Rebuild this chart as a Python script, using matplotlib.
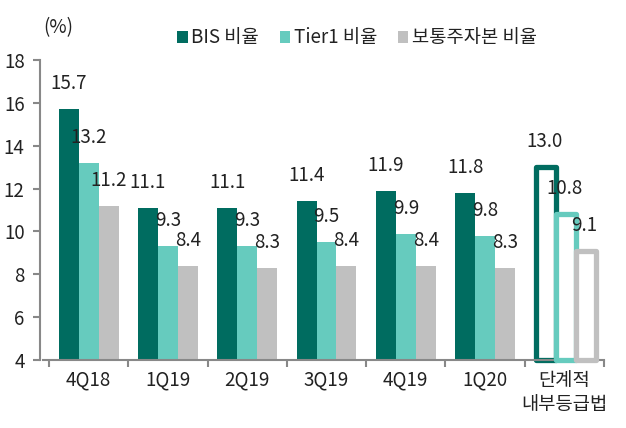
import matplotlib
matplotlib.use("Agg")
import matplotlib.pyplot as plt
from matplotlib.patches import Patch
import numpy as np

plt.rcParams['font.family'] = ['Noto Sans CJK KR', 'DejaVu Sans']
plt.rcParams['font.weight'] = 'light'

categories = ['4Q18', '1Q19', '2Q19', '3Q19', '4Q19', '1Q20', '단계적\n내부등급법']
bis = [15.7, 11.1, 11.1, 11.4, 11.9, 11.8, 13.0]
tier1 = [13.2, 9.3, 9.3, 9.5, 9.9, 9.8, 10.8]
common = [11.2, 8.4, 8.3, 8.4, 8.4, 8.3, 9.1]
series_names = ['BIS 비율', 'Tier1 비율', '보통주자본 비율']
colors = ['#006C60', '#66CBBE', '#C0C0C0']
yticks = [4, 6, 8, 10, 12, 14, 16, 18]

W, H = 626, 428
fig = plt.figure(figsize=(W/100, H/100), dpi=100)
ax = fig.add_axes([40/W, 1-360/H, 564/W, 300/H])

ymin = 4
txtc = '#222222'
fs = 13.5
n = len(categories)
x = np.arange(n)
bw = 20/79.3
offsets = [-bw, 0, bw]
series = [bis, tier1, common]
for s, (vals, col, off) in enumerate(zip(series, colors, offsets)):
    for i, v in enumerate(vals):
        xi = x[i] + off
        if i < n - 1:
            ax.bar(xi, v - ymin, bottom=ymin, width=bw, color=col, edgecolor='none', zorder=2)
        else:
            ax.bar(xi + 0.02, v - ymin, bottom=ymin, width=bw*0.98, facecolor='white',
                   edgecolor=col, linewidth=3.8, joinstyle='round', zorder=2 + s, clip_on=False)
        ax.annotate(f'{v:.1f}', xy=(xi, v), xytext=(0, 15), textcoords='offset pixels',
                    ha='center', va='bottom', fontsize=fs, color=txtc, zorder=10)

ax.set_xlim(-0.5 - 9/79.3, n - 0.5)
ax.set_ylim(4, 18)
ax.set_yticks(yticks)
ax.set_yticklabels([str(t) for t in yticks], fontsize=fs, color=txtc)
ax.set_xticks(x)
ax.set_xticklabels(categories, fontsize=fs, color=txtc, linespacing=1.2)
ax.tick_params(axis='x', length=0, pad=7)
ax.set_xticks(np.arange(n + 1) - 0.5, minor=True)
ax.tick_params(axis='x', which='minor', length=5, color='#888888', width=1.5)
ax.tick_params(axis='y', length=5, color='#888888', width=1.5, pad=6)
for sp in ['top', 'right']:
    ax.spines[sp].set_visible(False)
for sp in ['left', 'bottom']:
    ax.spines[sp].set_color('#888888')
    ax.spines[sp].set_linewidth(1.5)
ax.spines['bottom'].set_bounds(-0.5 - 6/79.3, n - 0.5)

fig.text(43/W, 1-28/H, '(%)', fontsize=fs, color=txtc, ha='left', va='center')

handles = [Patch(facecolor=c, edgecolor='none') for c in colors]
leg = fig.legend(handles, series_names, loc='center', bbox_to_anchor=(357/W, 1-38/H),
                 ncol=3, frameon=False, fontsize=fs, handlelength=0.55, handleheight=0.55,
                 handletextpad=0.2, columnspacing=1.1, labelcolor=txtc)

fig.savefig('out.png', dpi=100)
